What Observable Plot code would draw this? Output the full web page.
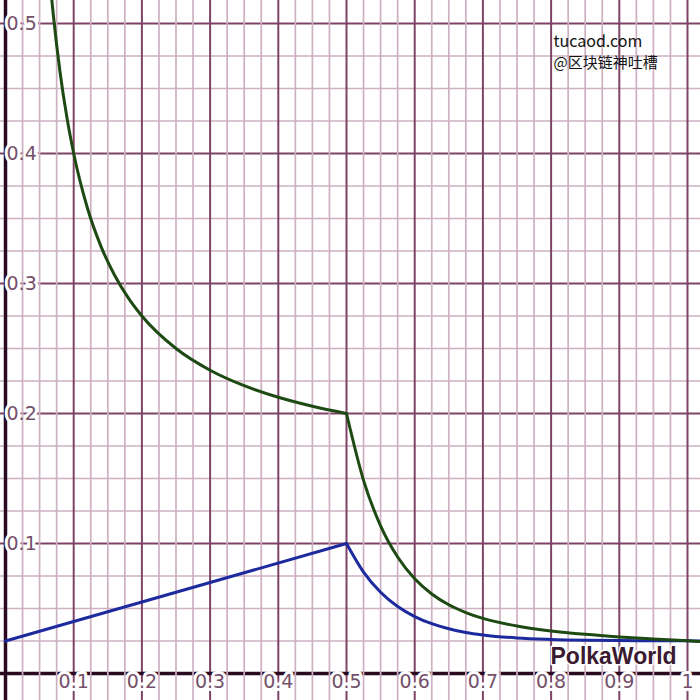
<!DOCTYPE html>
<html>
<head>
<meta charset="utf-8">
<script src="https://cdn.jsdelivr.net/npm/d3@7"></script>
<script src="https://cdn.jsdelivr.net/npm/@observablehq/plot@0.6"></script>
<style>
  html, body { margin: 0; padding: 0; background: #fff; }
  #chart { width: 700px; height: 700px; }
</style>
</head>
<body>
<div id="chart"></div>
<script>
// Tick labels
const xTicks = [0.1, 0.2, 0.3, 0.4, 0.5, 0.6, 0.7, 0.8, 0.9, 1];
const xTickLabels = ["0.1", "0.2", "0.3", "0.4", "0.5", "0.6", "0.7", "0.8", "0.9", "1"];
const yTicks = [0.1, 0.2, 0.3, 0.4, 0.5];
const yTickLabels = ["0.1", "0.2", "0.3", "0.4", "0.5"];

// Green curve (return): left branch and right branch
const greenLeftX = [0.06, 0.068, 0.07, 0.08, 0.09, 0.1, 0.12, 0.14, 0.16, 0.18, 0.2, 0.25, 0.3, 0.35, 0.4, 0.45, 0.5];
const greenLeftY = [0.5667, 0.5176, 0.5071, 0.4625, 0.4278, 0.4, 0.3583, 0.3286, 0.3063, 0.2889, 0.275, 0.25, 0.2333, 0.2214, 0.2125, 0.2056, 0.2];
const greenRightX = [0.5, 0.525, 0.55, 0.575, 0.6, 0.625, 0.65, 0.675, 0.7, 0.75, 0.8, 0.85, 0.9, 0.95, 1.0, 1.02];
const greenRightY = [0.2, 0.1486, 0.1136, 0.0896, 0.0729, 0.0612, 0.0529, 0.0469, 0.0424, 0.0365, 0.0327, 0.0301, 0.0281, 0.0265, 0.0251, 0.0246];

// Blue curve (inflation)
const blueLeftX = [0, 0.5];
const blueLeftY = [0.025, 0.1];
const blueRightX = [0.5, 0.525, 0.55, 0.575, 0.6, 0.625, 0.65, 0.675, 0.7, 0.75, 0.8, 0.85, 0.9, 0.95, 1.0, 1.02];
const blueRightY = [0.1, 0.078, 0.0625, 0.0515, 0.0438, 0.0383, 0.0344, 0.0316, 0.0297, 0.0273, 0.0262, 0.0256, 0.0253, 0.0252, 0.0251, 0.025];

const toPts = (xs, ys, seg) => xs.map((x, i) => ({x, y: ys[i], seg}));
const green = [...toPts(greenLeftX, greenLeftY, "a"), ...toPts(greenRightX, greenRightY, "b")];
const blue = [...toPts(blueLeftX, blueLeftY, "a"), ...toPts(blueRightX, blueRightY, "b")];

// grid: minor every 0.025, excluding the major (0.1) positions
const notMajor = v => Math.round(v * 40) % 4 !== 0;
const minorX = d3.range(1, 41).map(i => i / 40).filter(notMajor);
const minorY = d3.range(1, 21).map(i => i / 40).filter(notMajor);
const majorX = xTicks;
const majorY = yTicks;

const xLab = xTicks.map((v, i) => ({v, t: xTickLabels[i]}));
const yLab = yTicks.map((v, i) => ({v, t: yTickLabels[i]}));

const labelFont = {fontSize: 19, fontFamily: "DejaVu Sans"};
const xLabOpts = {x: "v", y: () => 0, text: "t", dy: 8, lineAnchor: "middle", ...labelFont};
const yLabOpts = {x: () => 0, y: "v", text: "t", dx: 1, textAnchor: "start", lineAnchor: "middle", ...labelFont};
const halo = {fill: "#fff", stroke: "#fff", strokeWidth: 6};
const ink = {fill: "#74506a"};

const plot = Plot.plot({
  width: 700,
  height: 700,
  margin: 0,
  x: {domain: [-0.00733, 1.01906], axis: null},
  y: {domain: [-0.02077, 0.51769], axis: null},
  style: {background: "#fff"},
  marks: [
    // horizontal grid and major vertical grid
    Plot.ruleY(minorY, {stroke: "#cdb0c2", strokeWidth: 1.7}),
    Plot.ruleY(majorY, {stroke: "#7d4468", strokeWidth: 2}),
    Plot.ruleX(majorX, {stroke: "#7d4468", strokeWidth: 2}),
    // axes
    Plot.ruleX([0], {stroke: "#2a0a20", strokeWidth: 3.5}),
    Plot.ruleY([0], {stroke: "#2a0a20", strokeWidth: 3.5}),
    // label backgrounds
    Plot.text(xLab, {...xLabOpts, ...halo}),
    Plot.text(yLab, {...yLabOpts, ...halo}),
    // minor vertical grid
    Plot.ruleX(minorX, {stroke: "#cdb0c2", strokeWidth: 1.7}),
    // tick labels
    Plot.text(xLab, {...xLabOpts, ...ink}),
    Plot.text(yLab, {...yLabOpts, ...ink}),
    // curves
    Plot.line(blue, {x: "x", y: "y", z: "seg", curve: "monotone-x", stroke: "#1c2a9e", strokeWidth: 3, clip: true}),
    Plot.line(green, {x: "x", y: "y", z: "seg", curve: "monotone-x", stroke: "#1d4a12", strokeWidth: 3, clip: true}),
    // watermarks
    Plot.text(["tucaod.com"], {frameAnchor: "top-left", dx: 553, dy: 41, textAnchor: "start", lineAnchor: "middle",
      fontSize: 16, fontFamily: "Noto Sans CJK SC", fill: "#111"}),
    Plot.text(["@区块链神吐槽"], {frameAnchor: "top-left", dx: 553, dy: 63, textAnchor: "start", lineAnchor: "middle",
      fontSize: 15, fontFamily: "Noto Sans CJK SC", fill: "#111"}),
    Plot.text(["PolkaWorld"], {frameAnchor: "top-left", dx: 550, dy: 656, textAnchor: "start", lineAnchor: "middle",
      fontSize: 23, fontWeight: "bold", fontFamily: "Liberation Sans", fill: "#3a1a30", stroke: "#fff", strokeWidth: 3, paintOrder: "stroke"})
  ]
});
document.getElementById("chart").appendChild(plot);
</script>
</body>
</html>
